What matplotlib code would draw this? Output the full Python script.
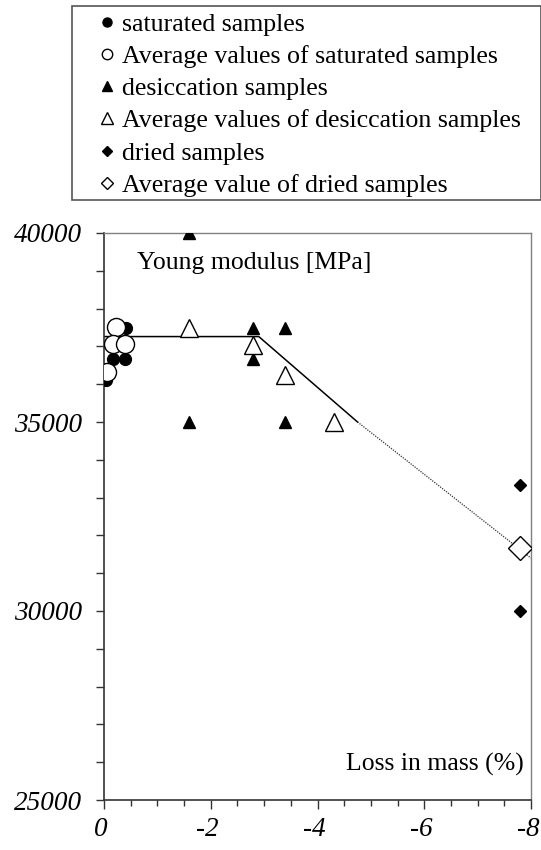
import numpy as np
import matplotlib.pyplot as plt
import matplotlib.transforms as mtransforms
from matplotlib.lines import Line2D
from matplotlib.patches import Rectangle
from matplotlib.ticker import MultipleLocator, StrMethodFormatter

plt.rcParams['font.family'] = ['Liberation Serif', 'DejaVu Serif']
plt.rcParams['axes.unicode_minus'] = False

# loss in mass (%) shown on an inverted axis, Young modulus in MPa
sat_x = [0.04, 0.16, 0.40, 0.42]
sat_y = [36100, 36670, 36670, 37500]
sat_avg_x = [0.22, 0.17, 0.40, 0.05]
sat_avg_y = [37520, 37070, 37070, 36310]

des_x = [1.6, 1.6, 2.8, 2.8, 3.4, 3.4]
des_y = [40000, 35000, 37500, 36670, 37500, 35000]
des_avg_x = [1.6, 2.8, 3.4, 4.3]
des_avg_y = [37500, 37050, 36250, 35000]

dry_x = [7.8, 7.8]
dry_y = [33330, 30000]
dry_avg_x = [7.8]
dry_avg_y = [31670]

# trend line: solid part and dotted extrapolation
trend_x = [0, 2.9, 4.75]
trend_y = [37260, 37260, 35000]
extra_x = [4.75, 8.0]
extra_y = [35000, 31400]

xticks = [0, 2, 4, 6, 8]
xtick_labels = ['0', '-2', '-4', '-6', '-8']

labels = ['saturated samples', 'Average values of saturated samples',
          'desiccation samples', 'Average values of desiccation samples',
          'dried samples', 'Average value of dried samples']

fig = plt.figure(figsize=(5.41, 8.5), dpi=100)
ax = fig.add_axes([104/541, 50/850, 427/541, 567/850])

ax.plot(trend_x, trend_y, color='black', lw=1.1, zorder=2)
ax.plot(extra_x, extra_y, color='#333333', lw=0.9, ls=(0, (1, 1)), zorder=2)

ax.plot(sat_x, sat_y, 'o', color='black', ms=8.5, zorder=3)
ax.plot(sat_avg_x, sat_avg_y, 'o', mfc='white', mec='black', mew=1, ms=13, zorder=4)
ax.plot(des_x, des_y, '^', color='black', ms=8.5, zorder=3)
ax.plot(des_avg_x, des_avg_y, '^', mfc='white', mec='black', mew=1, ms=13.5, zorder=4)
ax.plot(dry_x, dry_y, 'D', color='black', ms=6.5, zorder=3)
ax.plot(dry_avg_x, dry_avg_y, 'D', mfc='white', mec='black', mew=1, ms=12, zorder=4)

# data is positive loss, the axis labels show it as negative values
ax.set_xlim(0, 8)
ax.set_ylim(25000, 40000)
ax.set_xticks(xticks)
ax.set_xticklabels(xtick_labels)
ax.xaxis.set_minor_locator(MultipleLocator(0.5))
ax.yaxis.set_major_locator(MultipleLocator(5000))
ax.yaxis.set_minor_locator(MultipleLocator(1000))
ax.yaxis.set_major_formatter(StrMethodFormatter('{x:.0f}'))

ax.tick_params(axis='both', which='both', direction='out', color='#333333', width=1)
ax.tick_params(axis='x', which='major', length=6.5, pad=6, labelsize=19.5)
ax.tick_params(axis='x', which='minor', length=4)
ax.tick_params(axis='y', which='both', length=6)
ax.tick_params(axis='y', which='major', pad=10, labelsize=19.5)

shift = mtransforms.ScaledTranslation(-3/100, 0, fig.dpi_scale_trans)
for lab in ax.get_xticklabels():
    lab.set_fontstyle('italic')
    lab.set_transform(lab.get_transform() + shift)
for lab in ax.get_yticklabels():
    lab.set_fontstyle('italic')

for s in ['left', 'bottom']:
    ax.spines[s].set_color('#333333')
    ax.spines[s].set_linewidth(1.2)
for s in ['top', 'right']:
    ax.spines[s].set_color('#808080')
    ax.spines[s].set_linewidth(1)

ax.text(0.077, 0.947, 'Young modulus [MPa]', transform=ax.transAxes,
        fontsize=18.5, ha='left', va='center')
ax.text(0.984, 0.062, 'Loss in mass (%)', transform=ax.transAxes,
        fontsize=18.5, ha='right', va='center')

handles = [
    Line2D([], [], ls='none', marker='o', color='black', ms=6.5),
    Line2D([], [], ls='none', marker='o', mfc='white', mec='black', mew=1, ms=7.5),
    Line2D([], [], ls='none', marker='^', color='black', ms=7),
    Line2D([], [], ls='none', marker='^', mfc='white', mec='black', mew=1, ms=8.5),
    Line2D([], [], ls='none', marker='D', color='black', ms=5),
    Line2D([], [], ls='none', marker='D', mfc='white', mec='black', mew=1, ms=6),
]
fig.legend(handles, labels, loc='upper left', bbox_to_anchor=(97/541, 1 - 13/850),
           frameon=False, fontsize=18.6, borderpad=0, borderaxespad=0,
           handlelength=0.78, handletextpad=0.2, labelspacing=0.35)
fig.patches.append(Rectangle((72/541, 1 - 200/850), 469/541, 194/850,
                             transform=fig.transFigure, fill=False,
                             edgecolor='#555555', linewidth=1.2))

fig.savefig('out.png', dpi=100)
